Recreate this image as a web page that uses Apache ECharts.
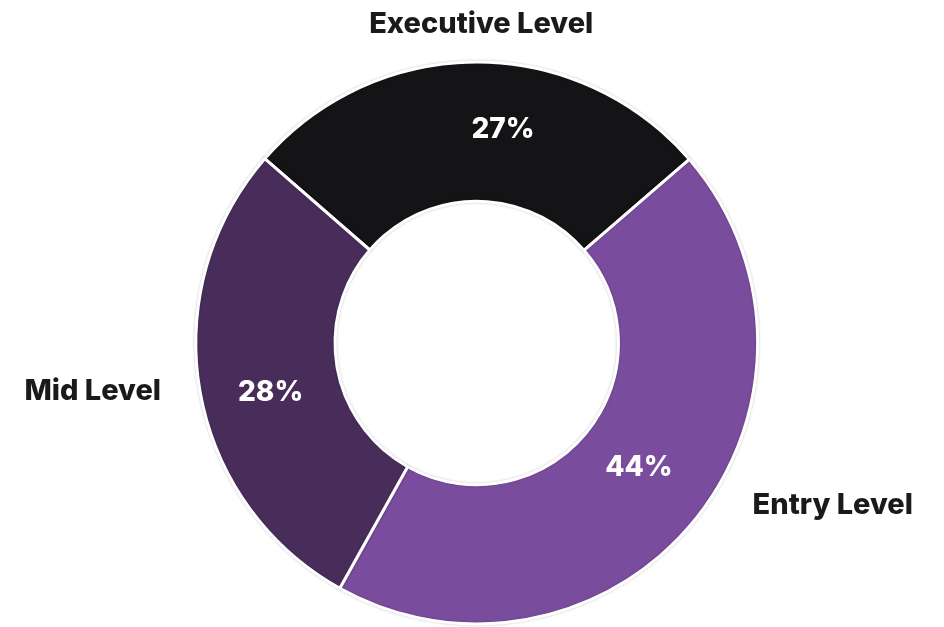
<!DOCTYPE html>
<html>
<head>
<meta charset="utf-8">
<script src="https://cdn.jsdelivr.net/npm/echarts@6/dist/echarts.min.js"></script>
<style>
html,body{margin:0;padding:0;background:#fff;}
#chart{width:944px;height:627px;}
</style>
</head>
<body>
<div id="chart"></div>
<script>
const categories = ['Executive Level', 'Entry Level', 'Mid Level'];
const shares = [27, 44, 28];
const colors = ['#141316', '#7a4c9d', '#482d5b'];
const nameLabelOffsets = [[4, 14], [98, -48], [-56, -9]];
const pctLabelOffsets = [[26, 1], [-4, -11], [5, 13]];

const chart = echarts.init(document.getElementById('chart'));
const center = ['50.5%', '54.7%'];
const FONT = 'Inter, "Open Sans", sans-serif';

chart.setOption({
  backgroundColor: '#ffffff',
  animation: false,
  series: [
    {
      type: 'pie',
      center: center,
      radius: ['45.2%', '89.6%'],
      startAngle: 139,
      clockwise: true,
      silent: true,
      itemStyle: { borderColor: '#ffffff', borderWidth: 3, shadowBlur: 3, shadowColor: 'rgba(0,0,0,0.18)' },
      label: {
        show: true,
        position: 'inside',
        formatter: '{c}%',
        color: '#ffffff',
        fontFamily: FONT,
        fontWeight: 800,
        fontSize: 28
      },
      labelLine: { show: false },
      data: categories.map((c, i) => ({ name: c, value: shares[i], itemStyle: { color: colors[i] }, label: { offset: pctLabelOffsets[i] } }))
    },
    {
      type: 'pie',
      center: center,
      radius: ['95.7%', '114.8%'],
      startAngle: 139,
      clockwise: true,
      silent: true,
      itemStyle: { color: 'rgba(0,0,0,0)', borderWidth: 0 },
      label: {
        show: true,
        position: 'inside',
        formatter: '{b}',
        color: '#1a1a1a',
        fontFamily: FONT,
        fontWeight: 800,
        fontSize: 29
      },
      labelLine: { show: false },
      data: categories.map((c, i) => ({ name: c, value: shares[i], label: { offset: nameLabelOffsets[i] } }))
    }
  ]
});
</script>
</body>
</html>
